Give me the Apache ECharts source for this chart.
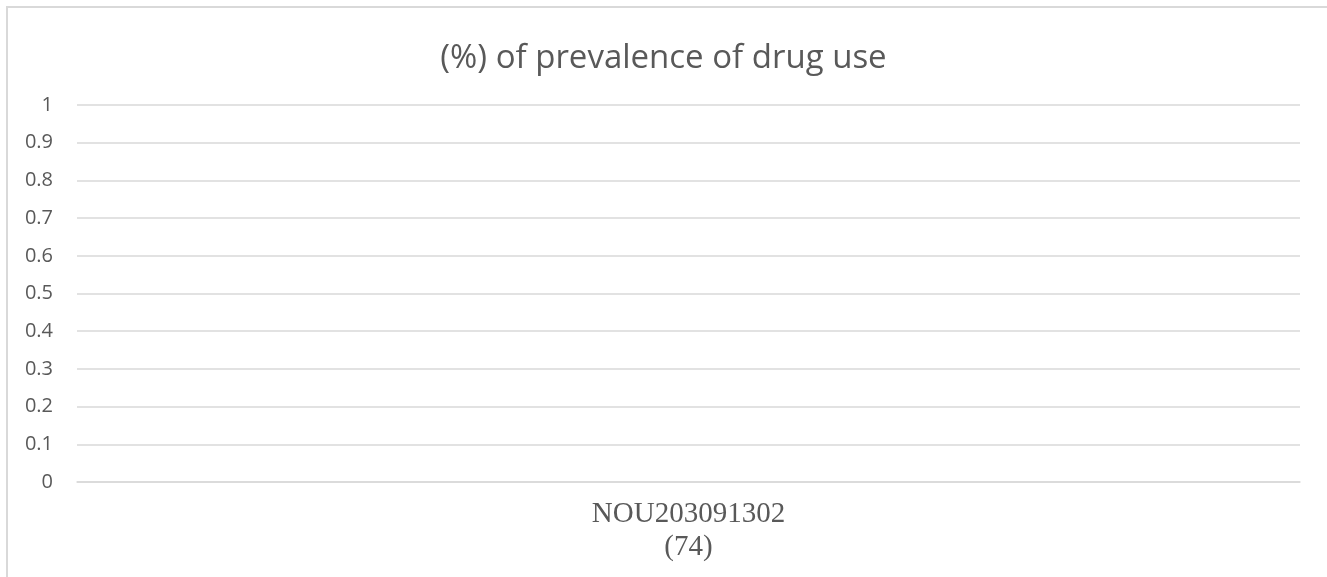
<!DOCTYPE html>
<html><head><meta charset="utf-8">
<script src="https://cdn.jsdelivr.net/npm/echarts@6/dist/echarts.min.js"></script>
<style>
html,body{margin:0;padding:0;background:#fff;overflow:hidden}
#frame{position:absolute;left:6px;top:6px;width:1330px;height:580px;border-left:2px solid #d9d9d9;border-top:2px solid #d9d9d9;box-sizing:border-box}
#chart{position:absolute;left:0;top:0;width:1327px;height:577px}
</style></head>
<body>
<div id="frame"></div>
<div id="chart"></div>
<script>
const categories = ['NOU203091302\n(74)'];
const seriesValues = [0];
const yTicks = [0, 0.1, 0.2, 0.3, 0.4, 0.5, 0.6, 0.7, 0.8, 0.9, 1];

const chart = echarts.init(document.getElementById('chart'), null, {renderer: 'canvas'});
chart.setOption({
  animation: false,
  title: {
    text: '(%) of prevalence of drug use',
    left: 'center',
    top: 37,
    textStyle: {fontFamily: 'Open Sans', fontSize: 33, fontWeight: 'normal', color: '#595959'}
  },
  grid: {left: 77, right: 27, top: 105, bottom: 95, containLabel: false},
  xAxis: {
    type: 'category',
    data: categories,
    axisLine: {show: true, lineStyle: {color: '#d9d9d9', width: 1.5}},
    axisTick: {show: false},
    axisLabel: {fontFamily: 'Liberation Serif', fontSize: 29, color: '#595959', margin: 16, lineHeight: 33}
  },
  yAxis: {
    type: 'value',
    min: 0, max: 1, interval: 0.1,
    axisLine: {show: false},
    axisTick: {show: false},
    splitLine: {lineStyle: {color: '#d9d9d9', width: 1.5}},
    axisLabel: {fontFamily: 'Open Sans', fontSize: 20, color: '#595959', margin: 24,
      formatter: v => { const t = yTicks.find(x => Math.abs(x - v) < 1e-9); return t === undefined ? '' : String(t); }}
  },
  series: [{type: 'bar', data: seriesValues, itemStyle: {color: '#4472c4'}, barWidth: '40%'}]
});
</script>
</body></html>
